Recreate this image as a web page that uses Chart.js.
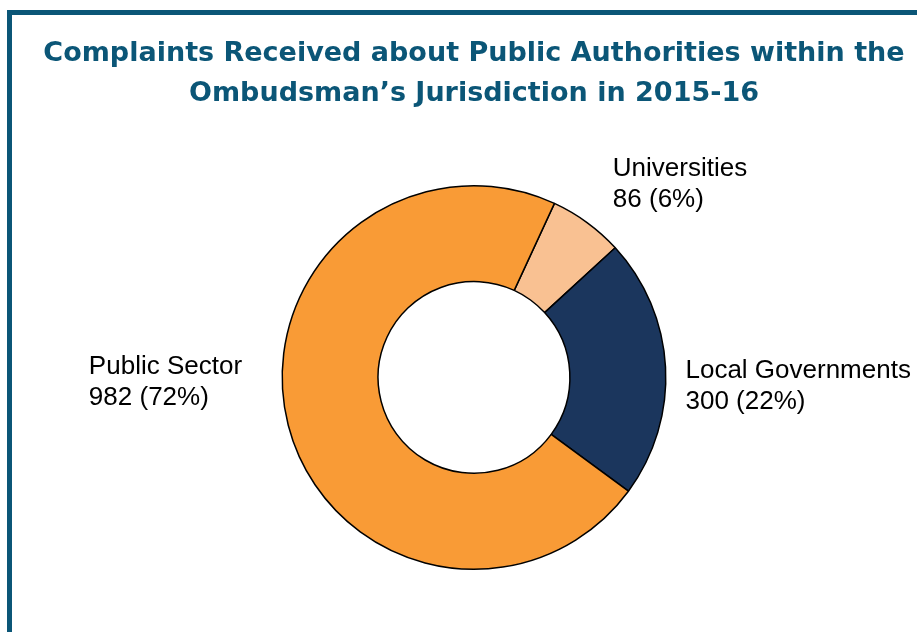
<!DOCTYPE html>
<html>
<head>
<meta charset="utf-8">
<script src="https://cdn.jsdelivr.net/npm/chart.js@4"></script>
<style>
  html, body { margin: 0; padding: 0; background: #fff; overflow: hidden; }
  #frame {
    position: absolute; left: 7px; top: 10px; width: 940px; height: 640px;
    border-top: 5px solid #0b5677; border-left: 5px solid #0b5677;
  }
  #wrap { position: absolute; left: 0; top: 0; width: 917px; height: 632px; }
</style>
</head>
<body>
<div id="frame"></div>
<div id="wrap"><canvas id="donut-chart"></canvas></div>
<script>
const categories = ["Universities", "Local Governments", "Public Sector"];
const complaints = [86, 300, 982];
const percentLabels = ["6%", "22%", "72%"];
const sliceColors = ["#f9c192", "#1b365d", "#f99b36"];

// label offsets from the anchor point just outside each slice
const labelOffsets = [
  { dx: 14, dy: -38, align: "left" },
  { dx: 0, dy: 5, align: "left" },
  { dx: -180, dy: -63, align: "left" },
];

const outsideLabels = {
  id: "outsideLabels",
  afterDatasetsDraw(chart) {
    const ctx = chart.ctx;
    const meta = chart.getDatasetMeta(0);
    ctx.save();
    ctx.font = "26px 'Liberation Sans', Arial, sans-serif";
    ctx.fillStyle = "#000";
    ctx.textBaseline = "middle";
    meta.data.forEach(function (arc, i) {
      const mid = (arc.startAngle + arc.endAngle) / 2;
      const r = arc.outerRadius + 20;
      const x = arc.x + Math.cos(mid) * r + labelOffsets[i].dx;
      const y = arc.y + Math.sin(mid) * r + labelOffsets[i].dy;
      ctx.textAlign = labelOffsets[i].align;
      ctx.fillText(categories[i], x, y);
      ctx.fillText(complaints[i] + " (" + percentLabels[i] + ")", x, y + 31);
    });
    ctx.restore();
  },
};

new Chart(document.getElementById("donut-chart"), {
  type: "doughnut",
  data: {
    labels: categories,
    datasets: [
      {
        data: complaints,
        backgroundColor: sliceColors,
        borderColor: "#000",
        borderWidth: 1.5,
      },
    ],
  },
  options: {
    responsive: true,
    maintainAspectRatio: false,
    animation: false,
    cutout: "50%",
    rotation: 24.8,
    layout: {
      padding: { left: 31, right: 0, top: 14, bottom: 62 },
    },
    plugins: {
      legend: { display: false },
      tooltip: { enabled: false },
      title: {
        display: true,
        text: [
          "Complaints Received about Public Authorities within the",
          "Ombudsman\u2019s Jurisdiction in 2015-16",
        ],
        color: "#0b5677",
        font: { family: "'DejaVu Sans', sans-serif", size: 27, weight: "bold", lineHeight: 1.48 },
        padding: { top: 20, bottom: 71 },
      },
    },
  },
  plugins: [outsideLabels],
});
</script>
</body>
</html>
